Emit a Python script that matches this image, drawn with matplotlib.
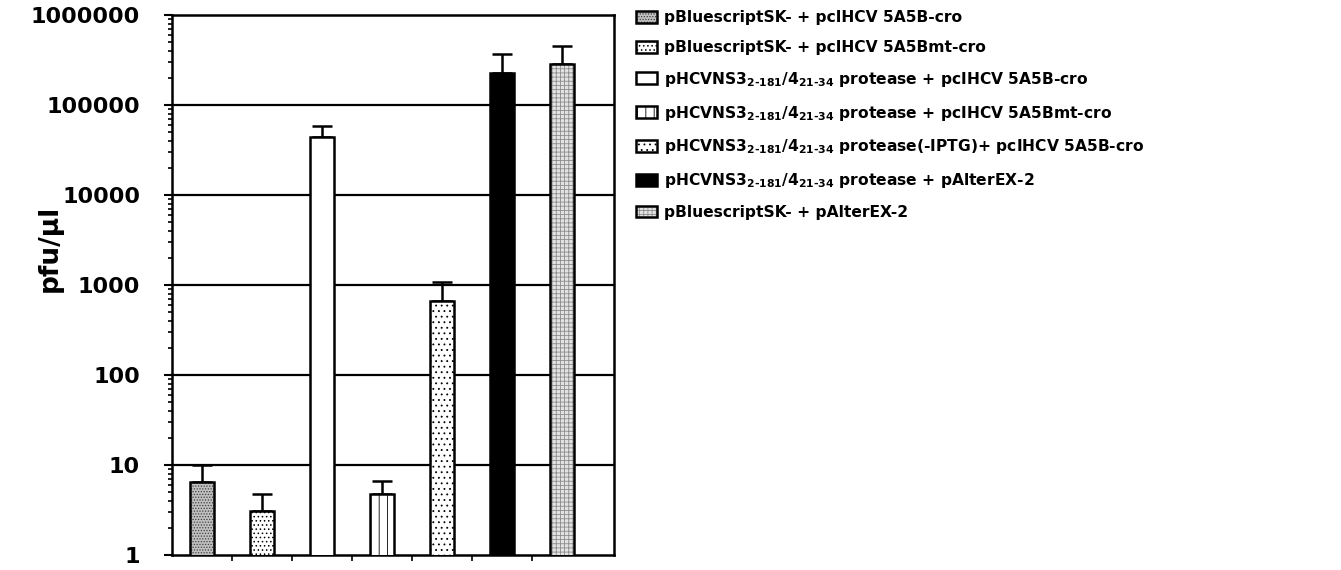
import numpy as np
import matplotlib
matplotlib.use("Agg")
import matplotlib.pyplot as plt
from matplotlib.patches import Patch
from matplotlib.ticker import FixedLocator, LogLocator, FuncFormatter, NullFormatter

plt.rcParams['font.family'] = 'DejaVu Sans'
plt.rcParams['mathtext.fontset'] = 'custom'
plt.rcParams['mathtext.rm'] = 'DejaVu Sans:bold'
plt.rcParams['mathtext.it'] = 'DejaVu Sans:bold'
plt.rcParams['mathtext.bf'] = 'DejaVu Sans:bold'
plt.rcParams['hatch.linewidth'] = 0.6

# data
ns3 = r'pHCVNS3$_{2‐181}$/4$_{21‐34}$'
labels = [
    'pBluescriptSK- + pcIHCV 5A5B-cro',
    'pBluescriptSK- + pcIHCV 5A5Bmt-cro',
    ns3 + ' protease + pcIHCV 5A5B-cro',
    ns3 + ' protease + pcIHCV 5A5Bmt-cro',
    ns3 + ' protease(-IPTG)+ pcIHCV 5A5B-cro',
    ns3 + ' protease + pAlterEX-2',
    'pBluescriptSK- + pAlterEX-2',
]
values = [6.4, 3.1, 44400, 4.8, 664, 228000, 283000]
errors = [3.5, 1.7, 14000, 1.8, 425, 140000, 170000]

# styles for each bar: fill, hatch pattern, hatch colour
faces = ['#c0c0c0', 'white', 'white', 'white', 'white', 'black', '#e2e2e2']
hatches = ['......', '....', '', '||', '...', '', '++++']
hcolors = ['#404040', 'black', 'black', 'black', 'black', 'black', '#8c8c8c']

fig = plt.figure(figsize=(13.41, 5.7), dpi=100)
ax = fig.add_axes([172/1341, 15/570, 442/1341, 540/570])

x = np.arange(len(values))
ax.set_yscale('log')
ax.set_ylim(1, 1e6)
ax.set_xlim(-0.5, 6.87)

for v in [1e1, 1e2, 1e3, 1e4, 1e5]:
    ax.axhline(v, color='black', lw=1.6, zorder=1)

# fill + hatch first, then black outline on top
fills = ax.bar(x, values, width=0.4, color=faces, edgecolor=hcolors, linewidth=0, zorder=3)
for b, h in zip(fills, hatches):
    b.set_hatch(h)
ax.bar(x, values, width=0.4, fill=False, edgecolor='black', linewidth=1.8, zorder=4)
ax.errorbar(x, values, yerr=[np.zeros(len(errors)), errors], fmt='none', ecolor='black',
            elinewidth=1.8, capsize=7, capthick=1.8, zorder=2)

for s in ax.spines.values():
    s.set_linewidth(1.8)

ax.yaxis.set_major_locator(FixedLocator([1, 10, 100, 1000, 10000, 100000, 1000000]))
ax.yaxis.set_major_formatter(FuncFormatter(lambda v, p: f'{int(round(v))}'))
ax.yaxis.set_minor_locator(LogLocator(base=10, subs=np.arange(2, 10)))
ax.yaxis.set_minor_formatter(NullFormatter())
ax.tick_params(axis='y', which='major', length=6, width=1.5, labelsize=16, pad=17)
ax.tick_params(axis='y', which='minor', length=3, width=1.2)
for t in ax.get_yticklabels():
    t.set_fontweight('bold')

ax.set_xticks(np.arange(0.5, 6, 1.0))
ax.set_xticklabels([])
ax.tick_params(axis='x', length=4, width=1.2)

fig.text(50/1341, 1 - 248/570, 'pfu/µl', rotation=90, fontsize=19, fontweight='bold',
         ha='center', va='center')

handles = []
for f, h, hc in zip(faces, hatches, hcolors):
    inner = Patch(facecolor=f, edgecolor=hc, hatch=h, linewidth=0)
    outer = Patch(fill=False, edgecolor='black', linewidth=1.8)
    handles.append((inner, outer))
fig.legend(handles, labels, loc='upper left', bbox_to_anchor=(630/1341, 1 - 4/570),
           frameon=False, prop={'weight': 'bold', 'size': 11.2},
           handlelength=1.35, handleheight=0.8, handletextpad=0.45, labelspacing=0.95,
           borderaxespad=0)

fig.savefig('out.png', dpi=100)
